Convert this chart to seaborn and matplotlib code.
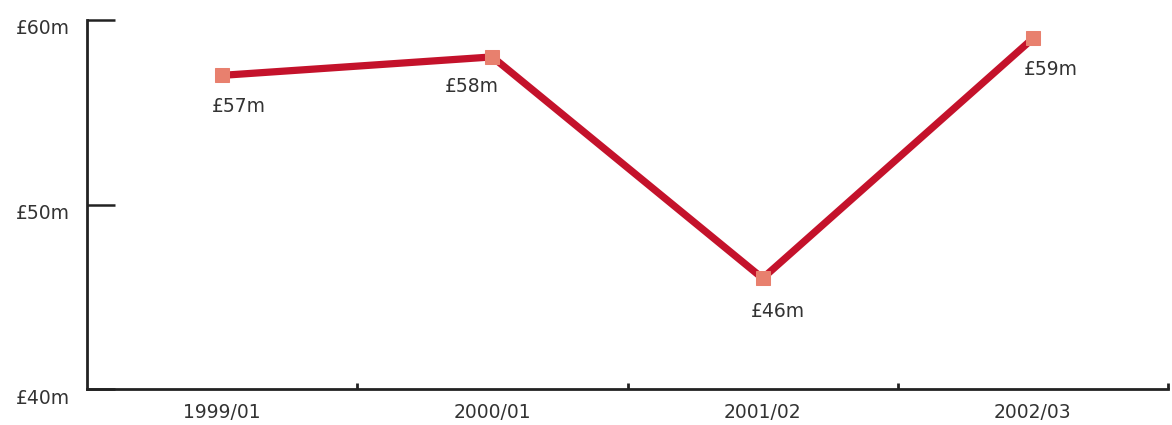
import matplotlib
matplotlib.use("Agg")
import matplotlib.pyplot as plt
import matplotlib.transforms as mtransforms
from matplotlib.ticker import FixedLocator
import seaborn as sns
import pandas as pd

years = ["1999/01", "2000/01", "2001/02", "2002/03"]
values = [57, 58, 46, 59]
labels = ["£57m", "£58m", "£46m", "£59m"]
y_ticks = [40, 50, 60]
y_tick_labels = ["£40m", "£50m", "£60m"]

sns.set_theme(style="white")
plt.rcParams["font.family"] = ["DejaVu Sans"]

df = pd.DataFrame({"year": years, "value": values})

fig = plt.figure(figsize=(11.72, 4.25), dpi=100)
ax = fig.add_axes([87/1172, 1 - 389/425, (1168 - 87)/1172, (389 - 20)/425])

sns.lineplot(data=df, x="year", y="value", ax=ax, color="#c4122b", linewidth=5.2,
             marker="s", markersize=10, markerfacecolor="#e8806e",
             markeredgecolor="#e8806e", solid_capstyle="butt")

ax.set_xlim(-0.5, 3.5)
ax.set_ylim(40, 60)
ax.set_xlabel("")
ax.set_ylabel("")

text_color = "#333333"
fs = 13.5
# data labels
offsets = [(-10, -31), (-47, -30), (-12, -33), (-9, -31)]
for i, (v, lab) in enumerate(zip(values, labels)):
    ax.annotate(lab, xy=(i, v), xytext=offsets[i], textcoords="offset pixels",
                ha="left", va="center", fontsize=fs, color=text_color)

for s in ["top", "right"]:
    ax.spines[s].set_visible(False)
for s in ["left", "bottom"]:
    ax.spines[s].set_color("#222222")
    ax.spines[s].set_linewidth(2)

ax.set_yticks(y_ticks)
ax.set_yticklabels(y_tick_labels)
ax.tick_params(axis="y", direction="in", length=20, width=1.8, color="#222222",
               pad=12, labelsize=fs, labelcolor=text_color, left=True)
offset = mtransforms.ScaledTranslation(0, -7/100, fig.dpi_scale_trans)
for lab in ax.get_yticklabels():
    lab.set_transform(lab.get_transform() + offset)

ax.set_xticks(range(len(years)))
ax.set_xticklabels(years)
ax.tick_params(axis="x", which="major", length=0, pad=10, labelsize=fs,
               labelcolor=text_color)
ax.xaxis.set_minor_locator(FixedLocator([0.5, 1.5, 2.5, 3.5]))
ax.tick_params(axis="x", which="minor", direction="in", length=4, width=2,
               color="#222222", bottom=True)
ax.grid(False)

fig.savefig("out.png", dpi=100)
